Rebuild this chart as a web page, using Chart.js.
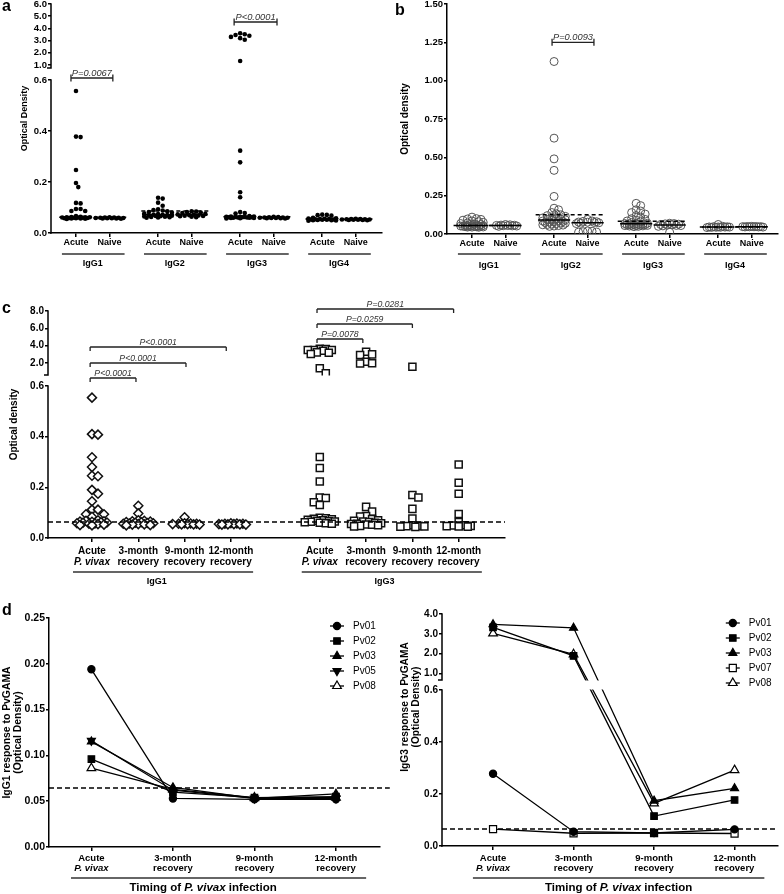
<!DOCTYPE html>
<html>
<head>
<meta charset="utf-8">
<title>PvGAMA IgG subclass responses</title>
<script src="https://cdn.jsdelivr.net/npm/chart.js@4.4.1/dist/chart.umd.min.js"></script>
<style>
  html, body { margin: 0; padding: 0; background: #fff; }
  #page { position: relative; width: 784px; height: 894px; overflow: hidden; background: #fff; }
  #page canvas { position: absolute; }
  .panel-letter { position: absolute; z-index: 5; font: bold 16px/16px "Liberation Sans", Arial, sans-serif; color: #000; }
</style>
</head>
<body>
<div id="page">
  <div class="panel-letter" style="left:2px;top:-2px">a</div>
  <div class="panel-letter" style="left:395px;top:1.5px">b</div>
  <div class="panel-letter" style="left:2px;top:300px">c</div>
  <div class="panel-letter" style="left:2px;top:601.5px">d</div>
</div>
<script>
// ====================== DATA ======================
// Panel a : IgG subclass optical density, acute vs naive (filled dots)
const aGroups = ['IgG1', 'IgG2', 'IgG3', 'IgG4'];
const aColumns = ['Acute', 'Naive'];
const aIgG1Acute = [0.557, 0.378, 0.376, 0.247, 0.196, 0.18, 0.118, 0.116, 0.094, 0.094, 0.086, 0.086,
  0.066, 0.064, 0.063, 0.062, 0.062, 0.062, 0.061, 0.061, 0.060, 0.060, 0.059, 0.059, 0.058, 0.058, 0.057, 0.057, 0.056, 0.055];
const aIgG1Naive = [0.062, 0.061, 0.061, 0.060, 0.060, 0.059, 0.059, 0.058, 0.058, 0.057, 0.057, 0.056];
const aIgG2Acute = [0.138, 0.135, 0.119, 0.107, 0.093, 0.09, 0.088, 0.085, 0.082, 0.079, 0.076, 0.074, 0.072,
  0.071, 0.07, 0.069, 0.068, 0.067, 0.066, 0.065, 0.064, 0.063, 0.062, 0.061, 0.06];
const aIgG2Naive = [0.085, 0.084, 0.082, 0.08, 0.078, 0.075, 0.073, 0.072, 0.07, 0.069, 0.068, 0.067, 0.066, 0.064, 0.062];
const aIgG3Acute = [3.6, 3.52, 3.46, 3.4, 3.3, 3.2, 3.07, 1.32, 0.323, 0.277, 0.16, 0.14, 0.082, 0.078, 0.076,
  0.066, 0.065, 0.065, 0.064, 0.064, 0.063, 0.063, 0.062, 0.062, 0.062, 0.061, 0.061, 0.06, 0.06, 0.059, 0.059, 0.058, 0.057];
const aIgG3Naive = [0.064, 0.063, 0.062, 0.061, 0.061, 0.06, 0.06, 0.059, 0.059, 0.058, 0.058, 0.057];
const aIgG4Acute = [0.072, 0.071, 0.07, 0.068, 0.06, 0.058, 0.057, 0.056, 0.055, 0.055, 0.054, 0.053, 0.053,
  0.052, 0.052, 0.051, 0.05, 0.05, 0.049, 0.048];
const aIgG4Naive = [0.056, 0.055, 0.055, 0.054, 0.054, 0.053, 0.053, 0.052, 0.052, 0.051, 0.051, 0.05];
const aCutoff = [0.062, 0.086, 0.064, 0.055];
const aTicksLow = [0, 0.2, 0.4, 0.6];
const aTicksHigh = [1, 2, 3, 4, 5, 6];
const aPvalues = ['P=0.0067', 'P<0.0001'];   // IgG1, IgG3

// Panel b : open circles
const bIgG1Acute = [0.11, 0.1, 0.098, 0.095, 0.09, 0.085, 0.08, 0.076, 0.072, 0.068, 0.065, 0.062, 0.06, 0.058, 0.056,
  0.055, 0.054, 0.053, 0.052, 0.052, 0.051, 0.05, 0.05, 0.049, 0.048, 0.047, 0.046, 0.045, 0.045, 0.044];
const bIgG1Naive = [0.062, 0.06, 0.058, 0.057, 0.056, 0.055, 0.054, 0.053, 0.052, 0.05];
const bIgG2Acute = [1.125, 0.625, 0.49, 0.415, 0.245, 0.168, 0.158, 0.14, 0.132, 0.125, 0.12, 0.115, 0.11, 0.105, 0.1,
  0.097, 0.095, 0.092, 0.09, 0.088, 0.085, 0.082, 0.08, 0.078, 0.075, 0.072, 0.07, 0.068, 0.065, 0.062, 0.06, 0.058, 0.055, 0.052, 0.05];
const bIgG2Naive = [0.095, 0.085, 0.082, 0.08, 0.078, 0.077, 0.075, 0.073, 0.07, 0.068, 0.02, 0.018, 0.015, 0.013, 0.012];
const bIgG3Acute = [0.2, 0.185, 0.158, 0.15, 0.14, 0.13, 0.12, 0.11, 0.1, 0.095, 0.09, 0.085, 0.08, 0.075, 0.07, 0.068,
  0.066, 0.065, 0.064, 0.063, 0.062, 0.061, 0.06, 0.058, 0.057, 0.056, 0.055, 0.054, 0.053, 0.052, 0.05, 0.048];
const bIgG3Naive = [0.07, 0.068, 0.066, 0.064, 0.062, 0.06, 0.058, 0.056, 0.055, 0.053, 0.05, 0.012];
const bIgG4Acute = [0.062, 0.05, 0.048, 0.047, 0.046, 0.046, 0.045, 0.045, 0.044, 0.044, 0.043, 0.042];
const bIgG4Naive = [0.05, 0.049, 0.049, 0.048, 0.048, 0.047, 0.047, 0.046, 0.046, 0.045];
const bCutoff = [0.055, 0.125, 0.083, 0.046];
const bTicks = [0, 0.25, 0.5, 0.75, 1.0, 1.25, 1.5];
const bPvalues = ['P=0.0093'];   // IgG2

// Panel c : acute vs recovery timepoints
const cGroups = ['IgG1', 'IgG3'];
const cTimeLine1 = ['Acute', '3-month', '9-month', '12-month'];
const cTimeLine2 = ['P. vivax', 'recovery', 'recovery', 'recovery'];
const cIgG1Acute = [0.554, 0.41, 0.408, 0.319, 0.28, 0.246, 0.244, 0.19, 0.175, 0.145, 0.112, 0.112, 0.094, 0.094, 0.084,
  0.07, 0.068, 0.066, 0.065, 0.064, 0.062, 0.061, 0.06, 0.058, 0.057, 0.056, 0.055, 0.053, 0.051, 0.05];
const cIgG1M3 = [0.127, 0.097, 0.07, 0.068, 0.066, 0.065, 0.063, 0.062, 0.06, 0.059, 0.058, 0.057, 0.056, 0.055, 0.054, 0.053, 0.051, 0.05];
const cIgG1M9 = [0.082, 0.058, 0.057, 0.056, 0.056, 0.055, 0.055, 0.054, 0.054, 0.053];
const cIgG1M12 = [0.058, 0.057, 0.056, 0.056, 0.055, 0.055, 0.054, 0.054, 0.053, 0.053];
const cIgG3Acute = [3.65, 3.6, 3.5, 3.5, 3.5, 3.42, 3.23, 3.19, 3.04, 1.39, 0.82, 0.32, 0.276, 0.223, 0.16, 0.158, 0.141, 0.13,
  0.08, 0.078, 0.076, 0.074, 0.072, 0.07, 0.068, 0.066, 0.065, 0.064, 0.062, 0.06, 0.058, 0.056];
const cIgG3M3 = [3.31, 3.0, 2.93, 2.15, 1.97, 1.95, 0.123, 0.104, 0.087, 0.085, 0.075, 0.07, 0.068, 0.065, 0.063, 0.06,
  0.058, 0.056, 0.055, 0.053, 0.052, 0.05, 0.048, 0.046];
const cIgG3M9 = [1.58, 0.17, 0.16, 0.115, 0.077, 0.05, 0.048, 0.047, 0.046, 0.045, 0.044];
const cIgG3M12 = [0.29, 0.218, 0.175, 0.095, 0.063, 0.05, 0.049, 0.048, 0.047, 0.046, 0.045];
const cCutoff = 0.063;
const cTicksLow = [0, 0.2, 0.4, 0.6];
const cTicksHigh = [2, 4, 6, 8];
const cPvaluesIgG1 = ['P<0.0001', 'P<0.0001', 'P<0.0001'];
const cPvaluesIgG3 = ['P=0.0078', 'P=0.0259', 'P=0.0281'];

// Panel d : individual patients over time
const dTimeLine1 = ['Acute', '3-month', '9-month', '12-month'];
const dTimeLine2 = ['P. vivax', 'recovery', 'recovery', 'recovery'];
const dIgG1Series = ['Pv01', 'Pv02', 'Pv03', 'Pv05', 'Pv08'];
const dIgG1Pv01 = [0.194, 0.053, 0.052, 0.052];
const dIgG1Pv02 = [0.096, 0.060, 0.054, 0.055];
const dIgG1Pv03 = [0.115, 0.065, 0.053, 0.058];
const dIgG1Pv05 = [0.116, 0.062, 0.053, 0.053];
const dIgG1Pv08 = [0.086, 0.063, 0.054, 0.054];
const dIgG3Series = ['Pv01', 'Pv02', 'Pv03', 'Pv07', 'Pv08'];
const dIgG3Pv01 = [0.278, 0.055, 0.050, 0.064];
const dIgG3Pv02 = [3.32, 1.88, 0.115, 0.177];
const dIgG3Pv03 = [3.48, 3.30, 0.174, 0.222];
const dIgG3Pv07 = [0.065, 0.049, 0.050, 0.048];
const dIgG3Pv08 = [3.02, 1.96, 0.164, 0.292];
const dCutoffIgG1 = 0.0644;
const dCutoffIgG3 = 0.065;
const dTicksIgG1 = [0, 0.05, 0.1, 0.15, 0.2, 0.25];
const dTicksLow = [0, 0.2, 0.4, 0.6];
const dTicksHigh = [1, 2, 3, 4];

// ====================== SETUP ======================
const FONT = '"Liberation Sans", Arial, Helvetica, sans-serif';
Chart.defaults.font.family = FONT;
Chart.defaults.color = '#000';
Chart.defaults.animation = false;
Chart.defaults.events = [];
Chart.defaults.plugins.legend.display = false;
Chart.defaults.plugins.tooltip.enabled = false;
const page = document.getElementById('page');

function mkCanvas(left, top, w, h) {
  const c = document.createElement('canvas');
  c.width = w; c.height = h;
  Object.assign(c.style, { left: left + 'px', top: top + 'px', width: w + 'px', height: h + 'px' });
  page.appendChild(c);
  return c;
}
function median(arr) {
  const s = [...arr].sort((a, b) => a - b), n = s.length;
  return n % 2 ? s[(n - 1) / 2] : (s[n / 2 - 1] + s[n / 2]) / 2;
}
// broken axis: lower segment 0..lowMax over L px, gap G px, upper highMin..highMax over H px
function makeBreak(lowMax, L, G, highMin, highMax, H) {
  return { L, G, H, total: L + G + H,
    f: v => v <= lowMax ? v / lowMax * L : L + G + (v - highMin) / (highMax - highMin) * H };
}
// column scatter spreading (deterministic beeswarm, width-capped, overlaps allowed when full)
function swarm(vals, cx, toPx, xPxPerUnit, minD, step, maxW) {
  const order = vals.map((_, i) => i).sort((a, b) => vals[b] - vals[a]);
  const cands = [0];
  for (let k = 1; k * step <= maxW + 1e-6; k++) cands.push(k * step, -k * step);
  const placed = [];
  return order.map(i => {
    const py = toPx(vals[i]);
    let best = 0, bestD = -1;
    for (const off of cands) {
      const d = placed.reduce((m, p) => Math.min(m, Math.hypot(p.x - off, p.y - py)), Infinity);
      if (d >= minD) { best = off; break; }
      if (d > bestD + 1e-9) { bestD = d; best = off; }
    }
    placed.push({ x: best, y: py });
    return { x: cx + best / xPxPerUnit, v: vals[i] };
  });
}

const XGRID = { drawOnChartArea: false, drawTicks: true, tickLength: 4, color: '#000', lineWidth: 1.5 };
const YGRID = { drawOnChartArea: false, drawTicks: true, tickLength: 3, color: '#000', lineWidth: 1.5 };
const NOGRID = { display: false, drawTicks: false, drawOnChartArea: false };

function xAxis(o) {
  return {
    type: 'linear', position: 'bottom', weight: o.weight, min: o.min, max: o.max,
    afterBuildTicks: s => { s.ticks = o.pos.map(v => ({ value: v })); },
    afterFit: s => { s.height = o.h; },
    ticks: { autoSkip: false, maxRotation: 0, minRotation: 0, padding: o.pad, color: '#000',
      font: o.font, callback: (v, i) => o.labels[i] },
    grid: o.main ? XGRID : NOGRID,
    border: o.main ? { display: true, color: '#000', width: 1.5 } : { display: false }
  };
}
function yTitle(text, size, padTop, lh) {
  return { display: true, text, color: '#000', font: { size, weight: 'bold', lineHeight: lh || 1.2 },
    padding: { top: padTop, bottom: 0 } };
}
function yAxisBroken(brk, low, high, digits, size, width, title) {
  const map = new Map();
  low.concat(high).forEach(t => map.set(brk.f(t), t));
  return {
    type: 'linear', position: 'left', min: 0, max: brk.total,
    afterBuildTicks: s => { s.ticks = Array.from(map.keys()).map(v => ({ value: v })); },
    afterFit: s => { s.width = width; },
    ticks: { autoSkip: false, padding: 1, color: '#000', font: { size, weight: 'bold' },
      callback: v => map.get(v).toFixed(digits) },
    grid: YGRID, border: { display: false }, title
  };
}
function yAxisLinear(min, max, ticksArr, digits, size, width, title) {
  return {
    type: 'linear', position: 'left', min, max,
    afterBuildTicks: s => { s.ticks = ticksArr.map(v => ({ value: v })); },
    afterFit: s => { s.width = width; },
    ticks: { autoSkip: false, padding: 1, color: '#000', font: { size, weight: 'bold' },
      callback: v => v.toFixed(digits) },
    grid: YGRID, border: { display: true, color: '#000', width: 1.5 }, title
  };
}
function seg(x0, x1, y, dashed, extra) {
  return Object.assign({ type: 'line', data: [{ x: x0, y }, { x: x1, y }], borderColor: '#000', borderWidth: 1.5,
    borderDash: dashed ? [4, 3] : [], pointRadius: 0, fill: false }, extra || {});
}

function deco(o) {
  return {
    id: 'deco',
    afterDatasetsDraw(chart) {
      if (!o.brk) return;
      const { ctx, chartArea: ca } = chart, ys = chart.scales.y;
      const yA = ys.getPixelForValue(o.brk.L + o.brk.G), yB = ys.getPixelForValue(o.brk.L);
      ctx.save(); ctx.fillStyle = '#fff';
      ctx.fillRect(ca.left + 1, yA + 0.5, ca.right - ca.left + 2, yB - yA - 1);
      ctx.restore();
    },
    afterDraw(chart) {
      const { ctx, chartArea: ca } = chart, xs = chart.scales.x, ys = chart.scales.y;
      ctx.save();
      ctx.strokeStyle = '#000'; ctx.fillStyle = '#000'; ctx.lineCap = 'butt';
      if (o.brk) {
        const X = ca.left, p0 = ys.getPixelForValue(0), p1 = ys.getPixelForValue(o.brk.L),
          p2 = ys.getPixelForValue(o.brk.L + o.brk.G), p3 = ys.getPixelForValue(o.brk.total);
        ctx.lineWidth = 1.5;
        ctx.beginPath();
        ctx.moveTo(X, p0 + 0.75); ctx.lineTo(X, p1 - 0.75);
        ctx.moveTo(X, p2 + 0.75); ctx.lineTo(X, p3 - 0.75);
        ctx.moveTo(X - 4, p2); ctx.lineTo(X, p2);
        ctx.stroke();
      }
      if (o.underlines) {
        ctx.lineWidth = 1.5; ctx.strokeStyle = '#333';
        const y = ca.bottom + o.ulDy;
        ctx.beginPath();
        o.underlines.forEach(([a, b]) => { ctx.moveTo(xs.getPixelForValue(a), y); ctx.lineTo(xs.getPixelForValue(b), y); });
        ctx.stroke();
      }
      if (o.brackets) {
        o.brackets.forEach(b => {
          const xa = xs.getPixelForValue(b.x0), xb = xs.getPixelForValue(b.x1), y = ys.getPixelForValue(b.y);
          ctx.strokeStyle = '#222'; ctx.lineWidth = 1.3;
          ctx.beginPath(); ctx.moveTo(xa, y); ctx.lineTo(xb, y);
          [xa, xb].forEach(x => { ctx.moveTo(x, y - o.bUp); ctx.lineTo(x, y + o.bDown); });
          ctx.stroke();
          ctx.fillStyle = '#333'; ctx.font = `italic ${o.pSize}px ${FONT}`;
          ctx.textAlign = 'center'; ctx.textBaseline = 'alphabetic';
          ctx.fillText(b.label, (xa + xb) / 2, y - 2);
        });
      }
      if (o.xTitle) {
        const y = ca.bottom + o.xTitleDy;
        const fonts = o.xTitle.map(([t, it]) => `${it ? 'italic ' : ''}bold ${o.xTitleSize}px ${FONT}`);
        const widths = o.xTitle.map(([t], i) => { ctx.font = fonts[i]; return ctx.measureText(t).width; });
        let x = xs.getPixelForValue(o.xTitleX) - widths.reduce((a, b) => a + b, 0) / 2;
        ctx.fillStyle = '#000'; ctx.textAlign = 'left'; ctx.textBaseline = 'middle';
        o.xTitle.forEach(([t], i) => { ctx.font = fonts[i]; ctx.fillText(t, x, y); x += widths[i]; });
      }
      if (o.yTitle) {
        const t = o.yTitle;
        ctx.save();
        ctx.translate(t.x, ca.top + t.cy);
        ctx.rotate(-Math.PI / 2);
        ctx.fillStyle = '#000'; ctx.font = `bold ${t.size}px ${FONT}`;
        ctx.textAlign = 'center'; ctx.textBaseline = 'middle';
        t.lines.forEach((ln, i) => ctx.fillText(ln, 0, i * t.dx));
        ctx.restore();
      }
      if (o.legend) {
        let row = 0;
        chart.data.datasets.forEach(ds => {
          if (!ds.label) return;
          const y = ca.top + o.legend.top + row * 15, xm = ca.right + o.legend.dx;
          row++;
          ctx.strokeStyle = '#000'; ctx.lineWidth = 1.3;
          ctx.beginPath(); ctx.moveTo(xm - 7, y); ctx.lineTo(xm + 7, y); ctx.stroke();
          ctx.fillStyle = ds.pointBackgroundColor; ctx.lineWidth = ds.pointBorderWidth;
          Chart.helpers.drawPoint(ctx, { pointStyle: ds.pointStyle, radius: ds.pointRadius,
            rotation: ds.pointRotation || 0, borderWidth: ds.pointBorderWidth }, xm, y);
          ctx.fillStyle = '#000'; ctx.font = `${o.legend.size}px ${FONT}`;
          ctx.textAlign = 'left'; ctx.textBaseline = 'middle';
          ctx.fillText(ds.label, ca.right + o.legend.tx, y);
        });
      }
      ctx.restore();
    }
  };
}

// ====================== PANEL A ======================
const abPos = [0, 1, 2.45, 3.45, 4.9, 5.9, 7.35, 8.35];
const abGroupPos = [0.5, 2.95, 5.4, 7.85];
const abMin = -0.746, abMax = 9.134, abPx = 33.5;
const abLabels = aGroups.flatMap(() => aColumns);
const abUnderlines = [0, 2, 4, 6].map(i => [abPos[i] - 0.42, abPos[i] + 1.45]);

const brkA = makeBreak(0.6, 153, 12, 0.75, 6.0, 64);
const aCols = [aIgG1Acute, aIgG1Naive, aIgG2Acute, aIgG2Naive, aIgG3Acute, aIgG3Naive, aIgG4Acute, aIgG4Naive];
const aDatasets = [];
aCols.forEach((vals, i) => aDatasets.push(seg(abPos[i] - 0.48, abPos[i] + 0.48, brkA.f(median(vals)), false)));
aCutoff.forEach((c, g) => aDatasets.push(seg(abPos[2 * g] - 0.5, abPos[2 * g + 1] + 0.5, brkA.f(c), true)));
aCols.forEach((vals, i) => aDatasets.push({
  type: 'scatter',
  data: swarm(vals, abPos[i], brkA.f, abPx, 4.6, 2.3, 13.8).map(p => ({ x: p.x, y: brkA.f(p.v) })),
  pointStyle: 'circle', pointRadius: 2.3, pointBackgroundColor: '#000', pointBorderColor: '#000', pointBorderWidth: 0
}));

new Chart(mkCanvas(0, -10, 392, 310), {
  type: 'scatter',
  data: { datasets: aDatasets },
  options: {
    responsive: false, maintainAspectRatio: false,
    layout: { padding: { left: 0, right: 10, top: 14, bottom: 29 } },
    scales: {
      x: xAxis({ weight: 0, min: abMin, max: abMax, pos: abPos, labels: abLabels, h: 18, pad: 0.6,
        font: { size: 9, weight: 'bold' }, main: true }),
      x3: xAxis({ weight: 1, min: abMin, max: abMax, pos: abGroupPos, labels: aGroups, h: 20, pad: 7.6,
        font: { size: 9, weight: 'bold' } }),
      y: yAxisBroken(brkA, aTicksLow, aTicksHigh, 1, 9.5, 51, yTitle('Optical Density', 9, 19.6))
    }
  },
  plugins: [deco({ brk: brkA, underlines: abUnderlines, ulDy: 21, bUp: 3.5, bDown: 3.5, pSize: 9.3,
    brackets: [{ x0: -0.15, x1: 1.1, y: 155, label: aPvalues[0] },
               { x0: 4.72, x1: 6.0, y: 211, label: aPvalues[1] }] })]
});

// ====================== PANEL B ======================
const bCols = [bIgG1Acute, bIgG1Naive, bIgG2Acute, bIgG2Naive, bIgG3Acute, bIgG3Naive, bIgG4Acute, bIgG4Naive];
const bPxY = 153;
const bDatasets = [];
bCols.forEach((vals, i) => bDatasets.push(seg(abPos[i] - 0.48, abPos[i] + 0.48, median(vals), false)));
bCutoff.forEach((c, g) => bDatasets.push(seg(abPos[2 * g] - 0.55, abPos[2 * g + 1] + 0.5, c, true)));
bCols.forEach((vals, i) => bDatasets.push({
  type: 'scatter',
  data: swarm(vals, abPos[i], v => v * bPxY, abPx, 4.5, 2.25, 11.5).map(p => ({ x: p.x, y: p.v })),
  pointStyle: 'circle', pointRadius: 4, pointBackgroundColor: 'rgba(255,255,255,0)',
  pointBorderColor: '#555', pointBorderWidth: 1
}));

new Chart(mkCanvas(392, -10, 392, 310), {
  type: 'scatter',
  data: { datasets: bDatasets },
  options: {
    responsive: false, maintainAspectRatio: false,
    layout: { padding: { left: 0, right: 6, top: 14, bottom: 29 } },
    scales: {
      x: xAxis({ weight: 0, min: abMin, max: abMax, pos: abPos, labels: abLabels, h: 17, pad: 0,
        font: { size: 9, weight: 'bold' }, main: true }),
      x3: xAxis({ weight: 1, min: abMin, max: abMax, pos: abGroupPos, labels: aGroups, h: 20, pad: 9.3,
        font: { size: 9, weight: 'bold' } }),
      y: yAxisLinear(0, 1.5, bTicks, 2, 9.5, 55, yTitle('Optical density', 10, 7))
    }
  },
  plugins: [deco({ underlines: abUnderlines, ulDy: 20, bUp: 3.5, bDown: 3.5, pSize: 9.3,
    brackets: [{ x0: 2.39, x1: 3.64, y: 1.25, label: bPvalues[0] }] })]
});

// ====================== PANEL C ======================
const cPos = [0, 1, 2, 3, 4.92, 5.92, 6.92, 7.92];
const cGroupPos = [1.4, 6.32];
const cMin = -0.95, cMax = 8.92, cPx = 46.3;
const brkC = makeBreak(0.6, 152, 11, 0.62, 8.0, 64);
const cCols = [cIgG1Acute, cIgG1M3, cIgG1M9, cIgG1M12, cIgG3Acute, cIgG3M3, cIgG3M9, cIgG3M12];
const cDatasets = [seg(cMin, cMax, brkC.f(cCutoff), true, { borderDash: [5, 3] })];
cCols.forEach((vals, i) => cDatasets.push({
  type: 'scatter',
  data: swarm(vals, cPos[i], brkC.f, cPx, 6, 3, 15).map(p => ({ x: p.x, y: brkC.f(p.v) })),
  pointStyle: i < 4 ? 'rectRot' : 'rect', pointRadius: i < 4 ? 4.5 : 5,
  pointBackgroundColor: '#fff', pointBorderColor: '#111', pointBorderWidth: 1.5
}));

new Chart(mkCanvas(0, 290, 540, 310), {
  type: 'scatter',
  data: { datasets: cDatasets },
  options: {
    responsive: false, maintainAspectRatio: false,
    layout: { padding: { left: 0, right: 35, top: 21, bottom: 10 } },
    scales: {
      x: xAxis({ weight: 0, min: cMin, max: cMax, pos: cPos, labels: cGroups.flatMap(() => cTimeLine1), h: 17, pad: 3,
        font: { size: 10, weight: 'bold' }, main: true }),
      x2: xAxis({ weight: 1, min: cMin, max: cMax, pos: cPos, labels: cGroups.flatMap(() => cTimeLine2), h: 13, pad: 1,
        font: ctx => ({ size: 10, weight: 'bold', style: cTimeLine2[ctx.index % 4] === 'P. vivax' ? 'italic' : 'normal' }) }),
      x3: xAxis({ weight: 2, min: cMin, max: cMax, pos: cGroupPos, labels: cGroups, h: 22, pad: 8.6,
        font: { size: 9, weight: 'bold' } }),
      y: yAxisBroken(brkC, cTicksLow, cTicksHigh, 1, 10, 48, yTitle('Optical density', 10, 8))
    }
  },
  plugins: [deco({ brk: brkC, underlines: [[-0.41, 3.48], [4.53, 8.42]], ulDy: 34, bUp: 0, bDown: 4, pSize: 8.7,
    brackets: [
      { x0: -0.04, x1: 0.95, y: 160, label: cPvaluesIgG1[0] },
      { x0: -0.04, x1: 2.03, y: 175, label: cPvaluesIgG1[1] },
      { x0: -0.04, x1: 2.9, y: 191, label: cPvaluesIgG1[2] },
      { x0: 4.86, x1: 5.85, y: 199, label: cPvaluesIgG3[0] },
      { x0: 4.86, x1: 6.92, y: 214, label: cPvaluesIgG3[1] },
      { x0: 4.86, x1: 7.81, y: 229, label: cPvaluesIgG3[2] }] })]
});

// ====================== PANEL D ======================
const dPos = [0, 1, 2, 3];
const dStyles = {
  Pv01: { pointStyle: 'circle', pointRadius: 3.6, pointBackgroundColor: '#000' },
  Pv02: { pointStyle: 'rect', pointRadius: 4.6, pointBackgroundColor: '#000' },
  Pv03: { pointStyle: 'triangle', pointRadius: 4.6, pointBackgroundColor: '#000' },
  Pv05: { pointStyle: 'triangle', pointRadius: 4.6, pointBackgroundColor: '#000', pointRotation: 180 },
  Pv07: { pointStyle: 'rect', pointRadius: 5, pointBackgroundColor: '#fff' },
  Pv08: { pointStyle: 'triangle', pointRadius: 5, pointBackgroundColor: '#fff' }
};
function patientSet(label, vals, yOf) {
  return Object.assign({ type: 'line', label, data: vals.map((v, i) => ({ x: dPos[i], y: yOf(v) })),
    borderColor: '#000', borderWidth: 1.3, pointBorderColor: '#000', pointBorderWidth: 1.2,
    fill: false, tension: 0 }, dStyles[label]);
}
const dItalicFont = ctx => ({ size: 9.5, weight: 'bold', style: dTimeLine2[ctx.index] === 'P. vivax' ? 'italic' : 'normal' });
const dXTitle = [['Timing of ', false], ['P. vivax', true], [' infection', false]];

// d – IgG1
const dMinL = -0.52, dMaxL = 3.54;
const dIgG1Vals = [dIgG1Pv01, dIgG1Pv02, dIgG1Pv03, dIgG1Pv05, dIgG1Pv08];
const dLDatasets = dIgG1Series.map((s, i) => patientSet(s, dIgG1Vals[i], v => v));
dLDatasets.push(seg(dMinL, dMaxL + 0.12, dCutoffIgG1, true, { borderDash: [5, 3], clip: false }));

new Chart(mkCanvas(0, 600, 392, 294), {
  type: 'scatter',
  data: { datasets: dLDatasets },
  options: {
    responsive: false, maintainAspectRatio: false,
    layout: { padding: { left: 0, right: 12, top: 18, bottom: 20 } },
    scales: {
      x: xAxis({ weight: 0, min: dMinL, max: dMaxL, pos: dPos, labels: dTimeLine1, h: 15, pad: 1.3,
        font: { size: 9.5, weight: 'bold' }, main: true }),
      x2: xAxis({ weight: 1, min: dMinL, max: dMaxL, pos: dPos, labels: dTimeLine2, h: 12, pad: 0.3, font: dItalicFont }),
      y: yAxisLinear(0, 0.25, dTicksIgG1, 2, 10.5, 49,
        yTitle(['IgG1 response to PvGAMA', '(Optical Density)'], 10.4, 1.3, 1.1))
    }
  },
  plugins: [deco({ underlines: [[-0.25, 3.37]], ulDy: 31, xTitle: dXTitle, xTitleDy: 41, xTitleX: 1.37, xTitleSize: 11.5,
    legend: { top: 8, dx: -43, tx: -27, size: 10 } })]
});

// d – IgG3
const dMinR = -0.634, dMaxR = 3.537;
const brkD = makeBreak(0.6, 156, 10, 0.66, 4.0, 66);
const dIgG3Vals = [dIgG3Pv01, dIgG3Pv02, dIgG3Pv03, dIgG3Pv07, dIgG3Pv08];
const dRDatasets = dIgG3Series.map((s, i) => patientSet(s, dIgG3Vals[i], brkD.f));
dRDatasets.push(seg(dMinR, dMaxR, brkD.f(dCutoffIgG3), true, { borderDash: [5, 3] }));

new Chart(mkCanvas(392, 600, 392, 294), {
  type: 'scatter',
  data: { datasets: dRDatasets },
  options: {
    responsive: false, maintainAspectRatio: false,
    layout: { padding: { left: 0, right: 0, top: 14, bottom: 20 } },
    scales: {
      x: xAxis({ weight: 0, min: dMinR, max: dMaxR, pos: dPos, labels: dTimeLine1, h: 16, pad: 2.3,
        font: { size: 9.5, weight: 'bold' }, main: true }),
      x2: xAxis({ weight: 1, min: dMinR, max: dMaxR, pos: dPos, labels: dTimeLine2, h: 12, pad: 0.3, font: dItalicFont }),
      y: yAxisBroken(brkD, dTicksLow, dTicksHigh, 1, 10, 50, { display: false })
    }
  },
  plugins: [deco({ brk: brkD, underlines: [[-0.25, 3.37]], ulDy: 32, xTitle: dXTitle, xTitleDy: 42, xTitleX: 1.56,
    xTitleSize: 11.5, legend: { top: 9, dx: -45, tx: -29, size: 10 },
    yTitle: { lines: ['IgG3 response to PvGAMA', '(Optical Density)'], x: 13, dx: 11, cy: 93, size: 10.2 } })]
});
</script>
</body>
</html>
